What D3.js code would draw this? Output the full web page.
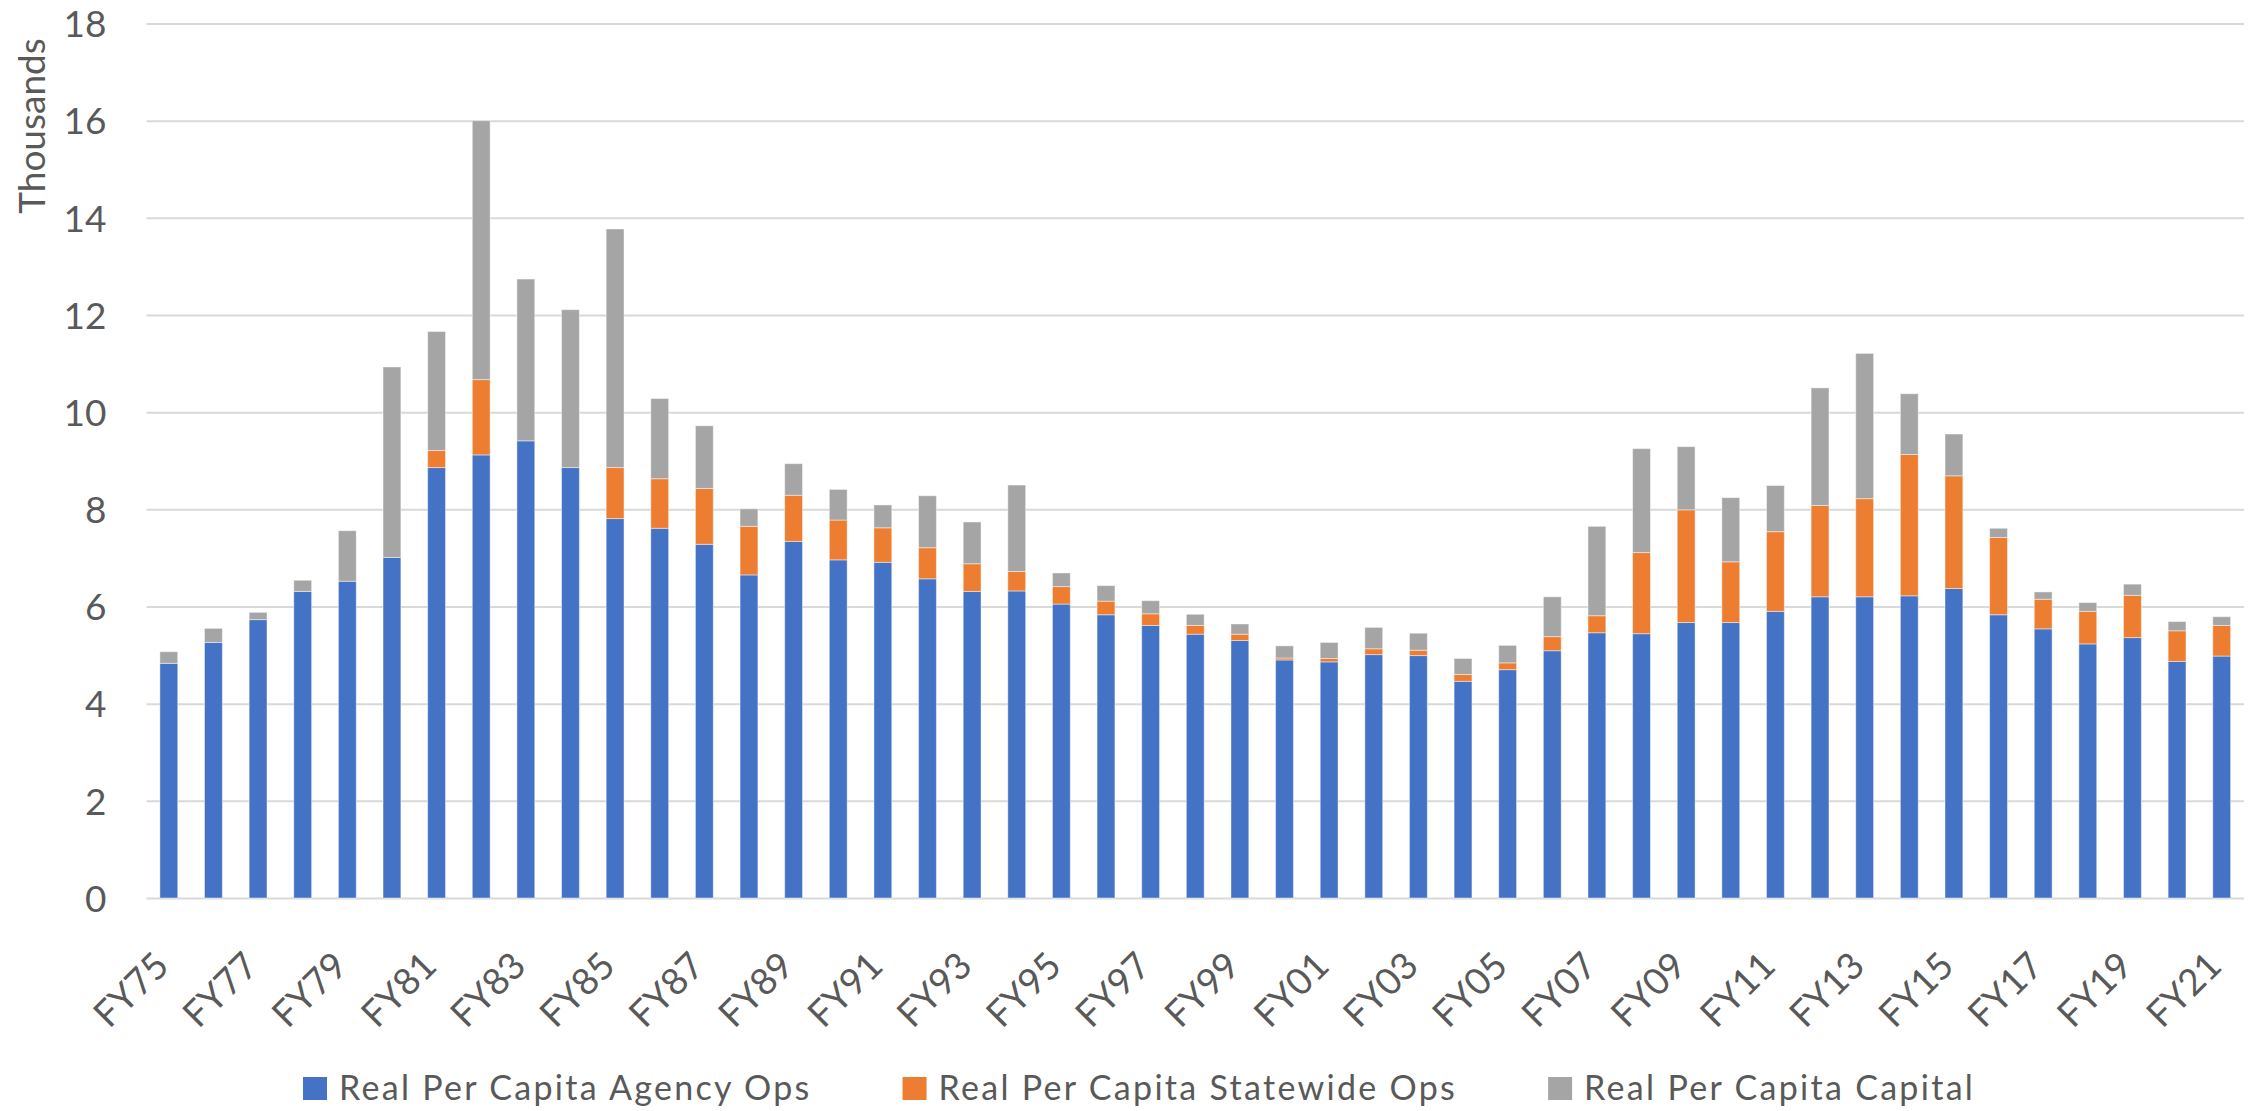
<!DOCTYPE html>
<html>
<head>
<meta charset="utf-8">
<script src="https://cdn.jsdelivr.net/npm/d3@7"></script>
<style>
  body { margin: 0; background: #fff; }
  text { font-family: Lato, "Open Sans", sans-serif; fill: #595959; }
</style>
</head>
<body>
<div id="chart"></div>
<script>
// fiscal years on the x axis
const years = ["FY75","FY76","FY77","FY78","FY79","FY80","FY81","FY82","FY83","FY84",
  "FY85","FY86","FY87","FY88","FY89","FY90","FY91","FY92","FY93","FY94",
  "FY95","FY96","FY97","FY98","FY99","FY00","FY01","FY02","FY03","FY04",
  "FY05","FY06","FY07","FY08","FY09","FY10","FY11","FY12","FY13","FY14",
  "FY15","FY16","FY17","FY18","FY19","FY20","FY21"];

// values in thousands
const agencyOps = [4.83,5.26,5.73,6.31,6.52,7.01,8.86,9.12,9.41,8.86,
  7.81,7.61,7.28,6.65,7.34,6.96,6.91,6.57,6.31,6.32,
  6.05,5.83,5.61,5.43,5.30,4.90,4.86,5.01,4.99,4.46,
  4.70,5.09,5.46,5.44,5.67,5.67,5.90,6.20,6.20,6.22,
  6.37,5.83,5.54,5.23,5.36,4.87,4.98];

const statewideOps = [0,0,0,0,0,0,0.35,1.55,0,0,
  1.05,1.02,1.15,1.00,0.95,0.82,0.71,0.64,0.57,0.40,
  0.36,0.28,0.24,0.18,0.13,0.04,0.07,0.12,0.11,0.14,
  0.14,0.29,0.35,1.67,2.32,1.25,1.64,1.88,2.02,2.91,
  2.32,1.59,0.61,0.67,0.87,0.63,0.63];

const capital = [0.24,0.29,0.15,0.23,1.04,3.92,2.45,5.33,3.33,3.25,
  4.91,1.65,1.29,0.36,0.65,0.63,0.47,1.07,0.86,1.78,
  0.28,0.32,0.27,0.23,0.21,0.25,0.33,0.44,0.35,0.33,
  0.36,0.82,1.84,2.14,1.30,1.32,0.95,2.42,2.99,1.25,
  0.86,0.19,0.15,0.18,0.23,0.19,0.18];

const yTicks = [0,2,4,6,8,10,12,14,16,18];

const seriesKeys = ["agency", "statewide", "capital"];
const seriesNames = ["Real Per Capita Agency Ops", "Real Per Capita Statewide Ops", "Real Per Capita Capital"];
const colors = ["#4472C4", "#ED7D31", "#A5A5A5"];

const width = 2262,
  height = 1111,
  plotLeft = 146.5,
  plotRight = 2244,
  plotTop = 23.5,
  plotBottom = 898;

const svg = d3.select('#chart').append('svg')
  .attr('width', width)
  .attr('height', height);

svg.append('rect')
  .attr('width', width)
  .attr('height', height)
  .attr('fill', '#fff');

const table = years.map((yr, i) => ({
  year: yr,
  agency: agencyOps[i],
  statewide: statewideOps[i],
  capital: capital[i]
}));

const x = d3.scaleBand()
  .domain(years)
  .range([plotLeft, plotRight])
  .paddingInner(0.6)
  .paddingOuter(0.3);

const y = d3.scaleLinear()
  .domain([0, 18])
  .range([plotBottom, plotTop]);

// gridlines + y labels
const yAxis = svg.append('g')
  .attr('transform', `translate(${plotLeft},0)`)
  .call(d3.axisLeft(y)
    .tickValues(yTicks)
    .tickSize(-(plotRight - plotLeft))
    .tickPadding(40)
    .tickFormat(d3.format('d')));

yAxis.select('.domain').remove();
yAxis.selectAll('line')
  .attr('stroke', '#d9d9d9')
  .attr('stroke-width', 2);
yAxis.selectAll('text')
  .style('font-size', '37px')
  .attr('dy', '0.36em');

// stacked bars
const stack = d3.stack().keys(seriesKeys);
const layers = stack(table);

svg.append('g')
  .selectAll('g')
  .data(layers)
  .enter()
  .append('g')
  .attr('fill', (d, i) => colors[i])
  .selectAll('rect')
  .data(d => d.filter(s => s[1] - s[0] > 0))
  .enter()
  .append('rect')
  .attr('x', d => x(d.data.year))
  .attr('y', d => y(d[1]))
  .attr('width', x.bandwidth())
  .attr('height', d => y(d[0]) - y(d[1]))
  .attr('stroke', '#fff')
  .attr('stroke-opacity', 0.45)
  .attr('stroke-width', 1);

// x axis labels, every other year
const xAxis = svg.append('g')
  .attr('transform', `translate(0,${plotBottom})`)
  .call(d3.axisBottom(x)
    .tickSize(0)
    .tickFormat((d, i) => i % 2 === 0 ? d : ''));

xAxis.select('.domain').remove();
xAxis.selectAll('text')
  .style('font-size', '37px')
  .attr('text-anchor', 'end')
  .attr('dy', null)
  .attr('y', 0)
  .attr('transform', 'translate(2,70) rotate(-45)');

// y axis title
svg.append('text')
  .attr('transform', 'translate(45,126) rotate(-90)')
  .attr('text-anchor', 'middle')
  .style('font-size', '37px')
  .text('Thousands');

// legend, items laid out one after another
const legend = svg.append('g');
let lx = 303;
seriesNames.forEach((name, i) => {
  const item = legend.append('g')
    .attr('transform', `translate(${lx},1077)`);

  item.append('rect')
    .attr('width', 24)
    .attr('height', 23)
    .attr('fill', colors[i]);

  const label = item.append('text')
    .attr('x', 36)
    .attr('y', 23)
    .style('font-size', '34px')
    .style('letter-spacing', '2.3px')
    .text(name);

  lx += 36 + label.node().getComputedTextLength() + 91;
});
</script>
</body>
</html>
